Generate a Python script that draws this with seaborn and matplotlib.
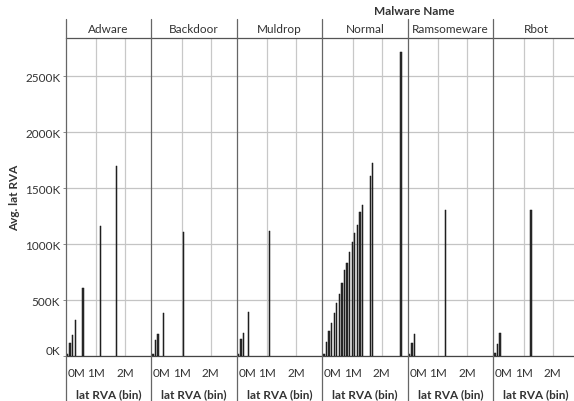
import pandas as pd
import matplotlib
matplotlib.use('Agg')
import matplotlib.pyplot as plt
from matplotlib.lines import Line2D
from matplotlib.ticker import FuncFormatter
import seaborn as sns

# values (avg lat RVA in thousands, bins as bin index)
malware_names = ['Adware', 'Backdoor', 'Muldrop', 'Normal', 'Ramsomeware', 'Rbot']
bin_size = 89000

adware_bins = [0, 1, 2, 3, 6, 13, 19]
adware_avg = [20, 116, 188, 319, 605, 1166, 1697]

backdoor_bins = [0, 1, 2, 4, 12]
backdoor_avg = [15, 146, 197, 385, 1112]

muldrop_bins = [0, 1, 2, 4, 12]
muldrop_avg = [15, 152, 203, 391, 1115]

normal_bins = [0, 1, 2, 3, 4, 5, 6, 7, 8, 9, 10, 11, 12, 13, 14, 15, 18, 19, 30]
normal_avg = [18, 122, 221, 295, 385, 471, 555, 653, 772, 835, 927, 1017,
              1100, 1172, 1285, 1353, 1607, 1729, 2716]

ramsomeware_bins = [0, 1, 2, 14]
ramsomeware_avg = [18, 116, 200, 1309]

rbot_bins = [0, 1, 2, 14]
rbot_avg = [27, 105, 206, 1309]

all_bins = [adware_bins, backdoor_bins, muldrop_bins, normal_bins, ramsomeware_bins, rbot_bins]
all_avg = [adware_avg, backdoor_avg, muldrop_avg, normal_avg, ramsomeware_avg, rbot_avg]

rows = []
for name, bins, avgs in zip(malware_names, all_bins, all_avg):
    for b, v in zip(bins, avgs):
        rows.append({'name': name, 'bin': b * bin_size, 'avg': v * 1000})
df = pd.DataFrame(rows)

sns.set_theme(style='white')
plt.rcParams['font.family'] = ['Lato', 'DejaVu Sans']

W, H = 574, 402
fig = plt.figure(figsize=(W / 100, H / 100), dpi=100)

left0, pw = 65.7, 85.5
top_px, base_px = 38.7, 357
txt = '#333333'

axes = []
for i, name in enumerate(malware_names):
    rect = [(left0 + i * pw) / W, (H - base_px) / H, pw / W, (base_px - top_px) / H]
    ax = fig.add_axes(rect, sharey=axes[0] if axes else None)
    axes.append(ax)
    sub = df[df['name'] == name]
    sns.barplot(data=sub, x='bin', y='avg', native_scale=True, orient='x',
                width=0.5, color='#2e2e2e', saturation=1, edgecolor='#111111',
                linewidth=0.35, errorbar=None, ax=ax, zorder=3)
    ax.set_xlim(-0.06e6, 2.9e6)
    ax.set_ylim(0, 2847000)
    ax.set_xticks([0, 1e6, 2e6])
    ax.set_yticks([0, 500000, 1000000, 1500000, 2000000, 2500000])
    ax.xaxis.set_major_formatter(FuncFormatter(lambda v, p: f'{v / 1e6:.0f}M'))
    ax.yaxis.set_major_formatter(FuncFormatter(lambda v, p: f'{v / 1000:.0f}K'))
    ax.yaxis.grid(True, color='#c4c4c4', lw=0.9, zorder=0)
    ax.set_axisbelow(True)
    for gx in [1e6, 2e6]:
        ax.axvline(gx, color='#c8c8c8', lw=0.9, zorder=0)
    for s in ['left', 'right']:
        ax.spines[s].set_visible(False)
    ax.spines['top'].set_color('#555555')
    ax.spines['top'].set_linewidth(0.9)
    ax.spines['bottom'].set_color('#444444')
    ax.spines['bottom'].set_linewidth(0.9)
    ax.tick_params(axis='x', length=0, pad=8, labelsize=8.5, labelcolor=txt)
    if i == 0:
        ax.tick_params(axis='y', left=True, length=2.5, width=0.7, color='#888888',
                       pad=1.5, labelsize=8.5, labelcolor=txt)
    else:
        ax.tick_params(axis='y', left=False, labelleft=False)
    ax.set_xlabel('lat RVA (bin)', fontsize=8.5, fontweight='bold', color=txt, labelpad=7)
    ax.set_ylabel('')
    fig.text((left0 + (i + 0.5) * pw) / W, 1 - 29.3 / H, name, ha='center', va='center',
             fontsize=8.5, color=txt)

for ax in axes:
    ax.get_xticklabels()[0].set_horizontalalignment('left')
axes[0].get_yticklabels()[0].set_verticalalignment('bottom')

# panel separators running through header and axis area
for i in range(len(malware_names) + 1):
    x = (left0 + i * pw) / W
    fig.add_artist(Line2D([x, x], [0, 1 - 20 / H], color='#666666', lw=0.9))

fig.text(414.5 / W, 1 - 11.7 / H, 'Malware Name', ha='center', va='center',
         fontsize=8.5, fontweight='bold', color=txt)
fig.text(15 / W, 1 - 198 / H, 'Avg. lat RVA', rotation=90, ha='center', va='center',
         fontsize=8.5, fontweight='bold', color=txt)

fig.savefig('out.png', dpi=100)
